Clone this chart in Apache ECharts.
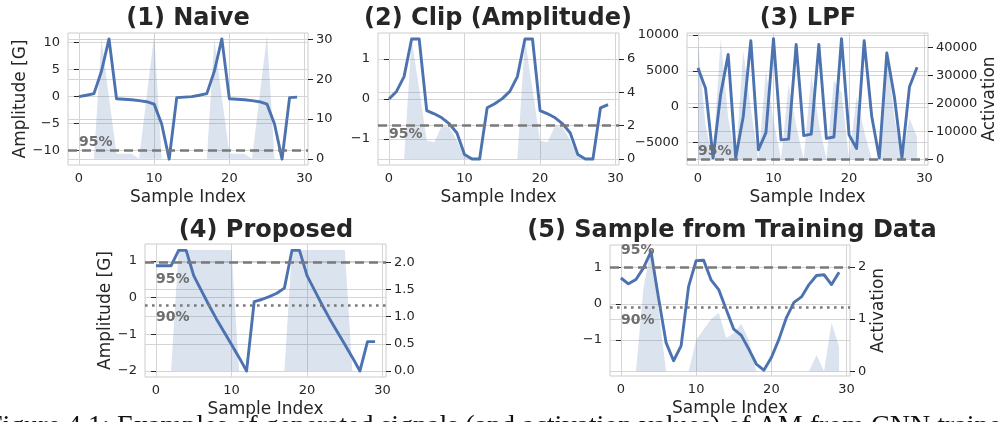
<!DOCTYPE html>
<html>
<head>
<meta charset="utf-8">
<script src="https://cdn.jsdelivr.net/npm/echarts@6/dist/echarts.min.js"></script>
<style>
  html, body { margin: 0; padding: 0; background: #fff; }
  #chart { width: 1000px; height: 422px; }
</style>
</head>
<body>
<div id="chart"></div>
<script>
// sample index 0..29
var sampleIdx = [0,1,2,3,4,5,6,7,8,9,10,11,12,13,14,15,16,17,18,19,20,21,22,23,24,25,26,27,28,29];
var xTicks = [0, 10, 20, 30];

// (1) Naive
var naiveAmp = [0.0, 0.25, 0.55, 4.7, 10.7, -0.4, -0.5, -0.6, -0.75, -0.95, -1.4, -5.1, -11.6, -0.2, -0.1,
                0.0, 0.25, 0.55, 4.7, 10.7, -0.4, -0.5, -0.6, -0.75, -0.95, -1.4, -5.1, -11.6, -0.2, -0.1];
var naiveAct = [0, 0, 0, 30, 15.4, 1.3, 1.3, 1.3, 0, 15.5, 31, 0, 0, 0, 0,
                0, 0, 0, 30, 15.4, 1.3, 1.3, 1.3, 0, 15.5, 31, 0, 0, 0, 0];
var naiveLeftTicks = [-10, -5, 0, 5, 10];
var naiveRightTicks = [0, 10, 20, 30];

// (2) Clip (Amplitude)
var clipAmp = [0.0, 0.19, 0.56, 1.5, 1.5, -0.29, -0.37, -0.47, -0.62, -0.85, -1.39, -1.5, -1.5, -0.22, -0.12,
               0.01, 0.19, 0.56, 1.5, 1.5, -0.29, -0.37, -0.47, -0.62, -0.85, -1.39, -1.5, -1.5, -0.22, -0.14];
var clipAct = [0, 0, 0, 7.2, 4.2, 1.1, 1.0, 2.0, 1.9, 1.1, 0.15, 0, 0, 0, 0,
               0, 0, 0, 7.2, 4.2, 1.1, 1.0, 2.0, 1.9, 1.1, 0.15, 0, 0, 0, 0];
var clipLeftTicks = [-1, 0, 1];
var clipRightTicks = [0, 2, 4, 6];

// (3) LPF
var lpfAmp = [5400, 2600, -7100, 1700, 7300, -7100, -1300, 9200, -6000, -3600, 9500, -4600, -4500, 8700, -4000,
              -3800, 8700, -4400, -4200, 9500, -3900, -5800, 9200, -1300, -7100, 7500, 1400, -7100, 2800, 5500];
var lpfAct = [42000, 12000, 0, 43000, 15000, 0, 38800, 18000, 0, 31500, 14000, 0, 26800, 12000, 0,
              30100, 13000, 0, 28300, 24000, 0, 22400, 10000, 0, 0, 38800, 15000, 0, 14700, 8000];
var lpfLeftTicks = [-5000, 0, 5000, 10000];
var lpfRightTicks = [0, 10000, 20000, 30000, 40000];

// (4) Proposed
var propAmp = [0.87, 0.87, 0.87, 1.29, 1.29, 0.6, 0.2, -0.2, -0.58, -0.93, -1.28, -1.63, -2.0, -0.11, -0.05,
               0.03, 0.12, 0.26, 1.29, 1.29, 0.6, 0.2, -0.2, -0.58, -0.93, -1.28, -1.63, -2.0, -1.2, -1.2];
var propAct = [0, 0, 0, 2.23, 2.23, 2.23, 2.23, 2.23, 2.23, 2.23, 2.23, 0, 0, 0, 0,
               0, 0, 0, 2.23, 2.23, 2.23, 2.23, 2.23, 2.23, 2.23, 2.23, 0, 0, 0, 0];
var propLeftTicks = [-2, -1, 0, 1];
var propRightTicks = [0, 0.5, 1.0, 1.5, 2.0];

// (5) Sample from Training Data
var trainAmp = [0.71, 0.55, 0.67, 0.99, 1.44, 0.16, -1.07, -1.57, -1.16, 0.48, 1.19, 1.2, 0.65, 0.39, -0.16,
                -0.7, -0.87, -1.25, -1.66, -1.83, -1.48, -0.98, -0.38, 0.04, 0.19, 0.53, 0.78, 0.8, 0.53, 0.87];
var trainAct = [0, 0, 0, 1.6, 2.35, 1.19, 0, 0, 0, 0, 0.6, 0.8, 1.0, 1.12, 0.64,
                0.73, 0.91, 0.6, 0, 0, 0, 0, 0, 0, 0, 0, 0.31, 0, 0.93, 0.47];
var trainLeftTicks = [-1, 0, 1];
var trainRightTicks = [0, 1, 2];

var titles = ['(1) Naive', '(2) Clip (Amplitude)', '(3) LPF', '(4) Proposed', '(5) Sample from Training Data'];

var BLUE = '#4c72b0';
var TXT = '#262626';
var GRID = '#d5d5d5';
var THR = '#7a7a7a';

// layout of each panel
var panels = [
    {box: [68, 33, 240, 132], amp: naiveAmp, act: naiveAct, lTicks: naiveLeftTicks, rTicks: naiveRightTicks,
     lRange: [-12.7, 11.8], rRange: [-1.55, 31.6], leftName: 'Amplitude [G]', leftGap: 37, rightName: '',
     thr: [{v: 2.07, dash: true, label: '95%', ly: 4.1}], title: [188, 19]},
    {box: [378, 33, 241, 132], amp: clipAmp, act: clipAct, lTicks: clipLeftTicks, rTicks: clipRightTicks,
     lRange: [-1.65, 1.65], rRange: [-0.36, 7.56], leftName: '', rightName: '',
     thr: [{v: 2.0, dash: true, label: '95%', ly: 1.45}], title: [498, 19]},
    {box: [687, 33, 241, 132], amp: lpfAmp, act: lpfAct, lTicks: lpfLeftTicks, rTicks: lpfRightTicks,
     lRange: [-8100, 10280], rRange: [-2040, 45200], leftName: '', rightName: 'Activation', rightGap: 50,
     thr: [{v: 150, dash: true, label: '95%', ly: 2700}], title: [808, 19]},
    {box: [145, 244, 241, 133], amp: propAmp, act: propAct, lTicks: propLeftTicks, rTicks: propRightTicks,
     lRange: [-2.165, 1.465], rRange: [-0.11, 2.34], leftName: 'Amplitude [G]', leftGap: 30, rightName: '',
     rFixed: 1,
     thr: [{v: 2.0, dash: true, label: '95%', ly: 1.68}, {v: 1.21, dash: false, label: '90%', ly: 0.98}], title: [266, 231]},
    {box: [610, 245, 240, 131], amp: trainAmp, act: trainAct, lTicks: trainLeftTicks, rTicks: trainRightTicks,
     lRange: [-1.99, 1.62], rRange: [-0.09, 2.42], leftName: '', rightName: 'Activation', rightGap: 18,
     thr: [{v: 2.0, dash: true, label: '95%', ly: 2.32}, {v: 1.22, dash: false, label: '90%', ly: 0.97}], title: [732, 231]}
];

function minus(v) {
    return String(v).replace('-', '\u2212');
}

function pairs(ys) {
    return sampleIdx.map(function (x, i) { return [x, ys[i]]; });
}

var grids = [], xAxes = [], yAxes = [], series = [], graphics = [];

panels.forEach(function (p, k) {
    grids.push({
        left: p.box[0], top: p.box[1], width: p.box[2], height: p.box[3],
        show: true, borderColor: '#cccccc', borderWidth: 1
    });
    xAxes.push({
        type: 'value', gridIndex: k, min: -1.45, max: 30.45,
        axisLine: {show: false},
        axisTick: {show: false, customValues: xTicks},
        axisLabel: {customValues: xTicks, color: TXT, fontSize: 13, fontFamily: 'DejaVu Sans', margin: 7},
        splitLine: {show: true, lineStyle: {color: GRID, width: 1}},
        name: 'Sample Index', nameLocation: 'middle', nameGap: 24,
        nameTextStyle: {color: TXT, fontSize: 17, fontFamily: 'DejaVu Sans'}
    });
    // left: amplitude
    yAxes.push({
        type: 'value', gridIndex: k, position: 'left', min: p.lRange[0], max: p.lRange[1],
        axisLine: {show: false},
        axisTick: {show: true, length: 5, customValues: p.lTicks, lineStyle: {color: TXT}},
        axisLabel: {customValues: p.lTicks, color: TXT, fontSize: 13, fontFamily: 'DejaVu Sans', margin: 8,
                    formatter: function (v) { return minus(v); }},
        splitLine: {show: true, lineStyle: {color: GRID, width: 1}},
        name: p.leftName, nameLocation: 'middle', nameGap: p.leftGap || 30, nameRotate: 90,
        nameTextStyle: {color: TXT, fontSize: 17, fontFamily: 'DejaVu Sans'}
    });
    // right: activation
    yAxes.push({
        type: 'value', gridIndex: k, position: 'right', min: p.rRange[0], max: p.rRange[1],
        axisLine: {show: false},
        axisTick: {show: true, length: 5, customValues: p.rTicks, lineStyle: {color: TXT}},
        axisLabel: {customValues: p.rTicks, color: TXT, fontSize: 13, fontFamily: 'DejaVu Sans', margin: 8,
                    formatter: function (v) { return p.rFixed ? v.toFixed(p.rFixed) : minus(v); }},
        splitLine: {show: true, lineStyle: {color: GRID, width: 1}},
        name: p.rightName, nameLocation: 'middle', nameGap: p.rightGap || 30, nameRotate: 90,
        nameTextStyle: {color: TXT, fontSize: 17, fontFamily: 'DejaVu Sans'}
    });

    // activation area
    series.push({
        type: 'line', xAxisIndex: k, yAxisIndex: 2 * k + 1, data: pairs(p.act),
        symbol: 'none', silent: true, z: 2,
        lineStyle: {width: 0},
        areaStyle: {color: 'rgba(76,114,176,0.2)', opacity: 1}
    });
    // amplitude line
    series.push({
        type: 'line', xAxisIndex: k, yAxisIndex: 2 * k, data: pairs(p.amp),
        symbol: 'none', silent: true, z: 3,
        lineStyle: {color: BLUE, width: 2.9, join: 'round'}
    });
    // threshold lines + labels, on the activation axis
    series.push({
        type: 'line', xAxisIndex: k, yAxisIndex: 2 * k + 1, data: [], z: 4, silent: true,
        markLine: {
            symbol: 'none', silent: true, animation: false,
            label: {show: false},
            data: p.thr.map(function (t) {
                return {yAxis: t.v, lineStyle: {color: THR, width: 2.6, type: t.dash ? [9, 5] : [2.6, 4.4]}};
            })
        },
        markPoint: {
            symbol: 'circle', symbolSize: 0, silent: true, animation: false,
            data: p.thr.map(function (t) {
                return {coord: [0, t.ly], value: t.label,
                        label: {show: true, position: 'right', distance: 0, formatter: t.label,
                                color: '#6e6e6e', fontSize: 14, fontWeight: 'bold', fontFamily: 'DejaVu Sans'}};
            })
        }
    });

    graphics.push({
        type: 'text', x: p.title[0], y: p.title[1], silent: true,
        style: {text: titles[k], fill: TXT, font: 'bold 24px "DejaVu Sans"', align: 'center', verticalAlign: 'middle'}
    });
});

// cut-off caption below the figure
graphics.push({
    type: 'text', x: -13, y: 413, silent: true,
    style: {text: 'Figure 4.1: Examples of generated signals (and activation values) of AM from CNN trained',
            fill: '#111', font: '28px "Liberation Serif"', align: 'left', verticalAlign: 'top'}
});

var chart = echarts.init(document.getElementById('chart'), null, {renderer: 'canvas'});
chart.setOption({
    animation: false,
    backgroundColor: '#fff',
    grid: grids,
    xAxis: xAxes,
    yAxis: yAxes,
    series: series,
    graphic: graphics
});
</script>
</body>
</html>
